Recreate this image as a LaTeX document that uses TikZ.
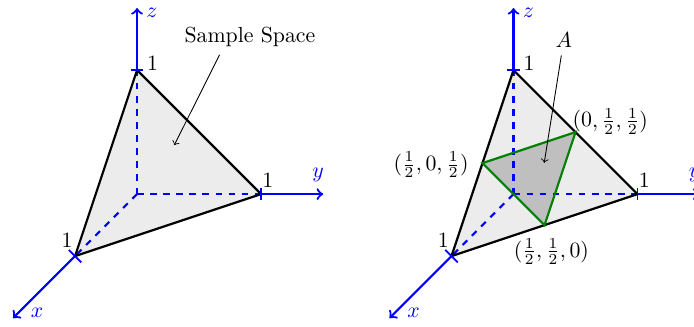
\documentclass[tikz,border=0pt]{standalone}
\usetikzlibrary{calc}
\tikzset{
  facefill/.style={fill=gray!15},
  innerfill/.style={fill=gray!50},
  hidden/.style={draw=blue,line width=1pt,dashed},
  axis/.style={draw=blue,line width=1pt,->},
  tickmark/.style={draw=blue,line width=0.8pt},
  edge/.style={draw=black,line width=1pt},
  greenedge/.style={draw=green!50!black,line width=1pt},
  axlabel/.style={text=blue},
  pointer/.style={draw=black,->},
}
% #1 prefix, #2 xshift, #3 extra fill code
\newcommand\simplexfig[3]{%
\begin{scope}[xshift=#2]
  \coordinate (#1o) at (0,0);
  \coordinate (#1x) at (-1,-1);
  \coordinate (#1y) at (2,0);
  \coordinate (#1z) at (0,2);
  \coordinate (#1xe) at (-2,-2);
  \coordinate (#1ye) at (3,0);
  \coordinate (#1ze) at (0,3);
  \coordinate (#1mxz) at (-0.5,0.5);
  \coordinate (#1myz) at (1,1);
  \coordinate (#1mxy) at (0.5,-0.5);
  \fill[facefill] (#1x) -- (#1y) -- (#1z) -- cycle;
  #3
  \draw[hidden] (#1o) -- (#1x);
  \draw[hidden] (#1o) -- (#1y);
  \draw[hidden] (#1o) -- (#1z);
  \draw[edge] (#1x) -- (#1y) -- (#1z) -- cycle;
  \draw[axis] (#1x) -- (#1xe);
  \draw[axis] (#1y) -- (#1ye);
  \draw[axis] (#1z) -- (#1ze);
  \draw[tickmark] ($(#1z)+(-0.1,0)$) -- ($(#1z)+(0.1,0)$);
  \draw[tickmark] ($(#1y)+(0,-0.1)$) -- ($(#1y)+(0,0.1)$);
  \draw[tickmark] ($(#1x)+(-0.1,0.1)$) -- ($(#1x)+(0.1,-0.1)$);
  \node[axlabel] (#1xl) at (-1.61,-1.92) {$x$};
  \node[axlabel] (#1yl) at (2.92,0.31) {$y$};
  \node[axlabel] (#1zl) at (0.24,2.92) {$z$};
  \node (#1xone) at (-1.13,-0.74) {1};
  \node (#1yone) at (2.11,0.23) {1};
  \node (#1zone) at (0.25,2.11) {1};
\end{scope}}
\begin{document}
\begin{tikzpicture}
\useasboundingbox (-2.21,-2.13) rectangle (8.98,3.13);
% left figure
\simplexfig{L}{0cm}{}
\node (ss) at (1.82,2.53) {Sample Space};
\coordinate (sst) at (0.60,0.79);
\draw[pointer] (ss.210) -- (sst);
% right figure
\simplexfig{R}{6.07cm}{\fill[innerfill] (Rmxz) -- (Rmyz) -- (Rmxy) -- cycle;}
\draw[greenedge] (Rmxz) -- (Rmyz) -- (Rmxy) -- cycle;
\begin{scope}[xshift=6.07cm]
  \node (lxz) at (-1.33,0.47) {$(\frac12,0,\frac12)$};
  \node (lyz) at (1.56,1.17) {$(0,\frac12,\frac12)$};
  \node (lxy) at (0.61,-0.93) {$(\frac12,\frac12,0)$};
  \node (A) at (0.81,2.48) {$A$};
  \coordinate (At) at (0.495,0.505);
  \draw[pointer] (A) -- (At);
\end{scope}
\end{tikzpicture}
\end{document}
